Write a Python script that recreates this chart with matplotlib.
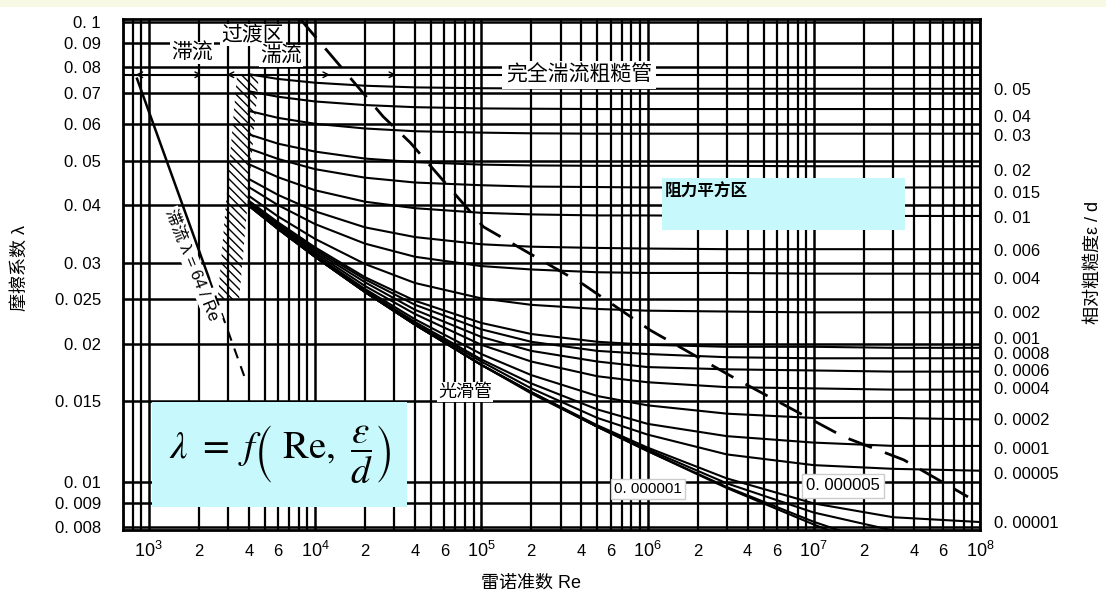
import numpy as np
import matplotlib
matplotlib.use("Agg")
import matplotlib.pyplot as plt
from matplotlib.ticker import FixedLocator, NullLocator, LogLocator, FuncFormatter
from matplotlib.patches import Rectangle, Polygon

plt.rcParams['font.family'] = ['Liberation Sans', 'Noto Sans CJK SC', 'DejaVu Sans']
plt.rcParams['mathtext.fontset'] = 'stix'
plt.rcParams['hatch.linewidth'] = 1.0

# ---------------------------------------------------------------------------
# Data
# ---------------------------------------------------------------------------

re_pts = [4e3, 6e3, 1e4, 2e4, 4e4, 1e5, 2e5, 5e5, 1e6, 3e6, 1e7, 3e7, 1e8]
rel_rough = [0.05, 0.04, 0.03, 0.02, 0.015, 0.01, 0.006, 0.004, 0.002, 0.001,
             0.0008, 0.0006, 0.0004, 0.0002, 0.0001, 0.00005, 0.00001,
             0.000005, 0.000001, 0.0]

# friction factor of each roughness curve at re_pts (one row per rel_rough)
friction = [
    [0.0770, 0.0752, 0.0738, 0.0727, 0.0721, 0.0718, 0.0717, 0.0716, 0.0716, 0.0716, 0.0716, 0.0716, 0.0716],
    [0.0707, 0.0688, 0.0672, 0.0660, 0.0653, 0.0649, 0.0648, 0.0647, 0.0647, 0.0647, 0.0647, 0.0647, 0.0647],
    [0.0641, 0.0619, 0.0601, 0.0587, 0.0579, 0.0575, 0.0573, 0.0572, 0.0572, 0.0572, 0.0572, 0.0572, 0.0572],
    [0.0570, 0.0544, 0.0523, 0.0505, 0.0496, 0.0490, 0.0488, 0.0487, 0.0487, 0.0487, 0.0486, 0.0486, 0.0486],
    [0.0531, 0.0504, 0.0479, 0.0459, 0.0448, 0.0442, 0.0439, 0.0438, 0.0437, 0.0437, 0.0437, 0.0437, 0.0437],
    [0.0491, 0.0460, 0.0431, 0.0407, 0.0394, 0.0385, 0.0382, 0.0380, 0.0380, 0.0379, 0.0379, 0.0379, 0.0379],
    [0.0456, 0.0421, 0.0388, 0.0358, 0.0341, 0.0329, 0.0325, 0.0323, 0.0322, 0.0321, 0.0321, 0.0321, 0.0321],
    [0.0438, 0.0400, 0.0364, 0.0330, 0.0309, 0.0295, 0.0290, 0.0286, 0.0285, 0.0285, 0.0284, 0.0284, 0.0284],
    [0.0419, 0.0378, 0.0338, 0.0298, 0.0271, 0.0251, 0.0243, 0.0238, 0.0236, 0.0235, 0.0234, 0.0234, 0.0234],
    [0.0409, 0.0367, 0.0324, 0.0279, 0.0248, 0.0222, 0.0210, 0.0202, 0.0199, 0.0197, 0.0197, 0.0196, 0.0196],
    [0.0407, 0.0365, 0.0321, 0.0276, 0.0243, 0.0215, 0.0202, 0.0193, 0.0190, 0.0187, 0.0186, 0.0186, 0.0186],
    [0.0405, 0.0362, 0.0318, 0.0272, 0.0237, 0.0207, 0.0193, 0.0183, 0.0178, 0.0176, 0.0175, 0.0174, 0.0174],
    [0.0403, 0.0360, 0.0315, 0.0267, 0.0232, 0.0199, 0.0183, 0.0170, 0.0165, 0.0161, 0.0160, 0.0159, 0.0159],
    [0.0401, 0.0357, 0.0312, 0.0263, 0.0226, 0.0190, 0.0171, 0.0154, 0.0147, 0.0141, 0.0138, 0.0138, 0.0137],
    [0.0400, 0.0356, 0.0310, 0.0261, 0.0223, 0.0185, 0.0164, 0.0144, 0.0134, 0.0126, 0.0122, 0.0120, 0.0120],
    [0.0400, 0.0356, 0.0310, 0.0260, 0.0221, 0.0183, 0.0160, 0.0138, 0.0127, 0.0115, 0.0109, 0.0107, 0.0106],
    [0.0399, 0.0355, 0.0309, 0.0259, 0.0220, 0.0180, 0.0157, 0.0133, 0.0119, 0.0102, 0.0090, 0.0084, 0.0082],
    [0.0399, 0.0355, 0.0309, 0.0259, 0.0220, 0.0180, 0.0157, 0.0132, 0.0118, 0.00995, 0.0086, 0.00786, 0.00747],
    [0.0399, 0.0355, 0.0309, 0.0259, 0.0220, 0.0180, 0.0157, 0.0132, 0.0117, 0.00977, 0.00821, 0.00718, 0.00643],
    [0.0399, 0.0355, 0.0309, 0.0259, 0.0220, 0.0180, 0.0156, 0.0132, 0.0117, 0.00972, 0.00810, 0.00695, 0.00594],
]

# laminar line  lambda = 64/Re (solid part, then dashed continuation)
lam_re = [850, 2300]
lam_f = [0.0753, 0.0278]
lam_re_dash = [2300, 3800]
lam_f_dash = [0.0278, 0.0168]

# boundary of the fully rough zone
bound_re = [8.13e3, 2.57e4, 3.74e4, 1.03e5, 4.12e5, 1.04e6, 3.48e6, 1.52e7, 3.48e7, 8.47e7]
bound_f = [0.1016, 0.0623, 0.0547, 0.0359, 0.0269, 0.0214, 0.0167, 0.01255, 0.01119, 0.0093]

# critical (transition) band, hatched
band_re = [3.4e3, 4.6e3, 3.5e3, 2.6e3]
band_f = [0.077, 0.077, 0.025, 0.025]

y_ticks = [0.008, 0.009, 0.01, 0.015, 0.02, 0.025, 0.03, 0.04, 0.05, 0.06, 0.07, 0.08, 0.09, 0.1]
y_labels = ['0. 008', '0. 009', '0. 01', '0. 015', '0. 02', '0. 025', '0. 03', '0. 04',
            '0. 05', '0. 06', '0. 07', '0. 08', '0. 09', '0. 1']

eps_labels = ['0. 05', '0. 04', '0. 03', '0. 02', '0. 015', '0. 01', '0. 006', '0. 004',
              '0. 002', '0. 001', '0. 0008', '0. 0006', '0. 0004', '0. 0002', '0. 0001',
              '0. 00005', '0. 00001']
eps_label_pos = [0.0715, 0.0626, 0.0567, 0.0477, 0.0427, 0.0377, 0.032, 0.0278,
                 0.0235, 0.0206, 0.0191, 0.0175, 0.016, 0.0137, 0.0119, 0.0105, 0.0082]

# regime arrows along the top row
arrow_row = 0.0768
laminar_span = (801, 2174)
turb_span = (2830, 1.28e4)
rough_start = (1.92e4, 3.2e4)


# ---------------------------------------------------------------------------
# Figure
# ---------------------------------------------------------------------------

def fx(px):
    return px / 1106


def fy(py):
    return 1 - py / 596


fig = plt.figure(figsize=(11.06, 5.96), dpi=100)
fig.patches.append(Rectangle((0, fy(7)), 1, 7 / 596, transform=fig.transFigure,
                             facecolor='#f7f9e4', edgecolor='none'))

ax = fig.add_axes([fx(123), fy(530), 857 / 1106, 511 / 596])
ax.set_xscale('log')
ax.set_yscale('log')

for f in friction:
    ax.plot(re_pts, f, color='black', lw=1.5, zorder=3)
ax.plot(lam_re, lam_f, color='black', lw=1.8, zorder=3)
ax.plot(lam_re_dash, lam_f_dash, color='black', lw=1.5, ls=(0, (5, 4)), zorder=3)
ax.plot(bound_re, bound_f, color='black', lw=2, ls=(0, (9, 5)), zorder=3)

ax.add_patch(Polygon(list(zip(band_re, band_f)), closed=True, fill=False,
                     hatch='\\\\\\\\', edgecolor='black', lw=0, zorder=2))

ax.set_xlim(700, 1e8)
ax.set_ylim(0.00788, 0.1015)

ax.xaxis.set_major_locator(LogLocator(base=10, numticks=12))
ax.xaxis.set_minor_locator(LogLocator(base=10, subs=np.arange(2, 10), numticks=12))
ax.xaxis.set_major_formatter(FuncFormatter(lambda v, p: r'$\mathregular{10^{%d}}$' % round(np.log10(v))))


def minor_fmt(v, p):
    k = int(round(v / 10 ** np.floor(np.log10(v) + 1e-9)))
    return str(k) if k in (2, 4, 6) else ''


ax.xaxis.set_minor_formatter(FuncFormatter(minor_fmt))
ax.yaxis.set_major_locator(FixedLocator(y_ticks))
ax.yaxis.set_minor_locator(NullLocator())
ax.set_yticklabels(y_labels)

ax.grid(True, which='major', axis='both', color='black', lw=1.8, zorder=1)
ax.grid(True, which='minor', axis='x', color='black', lw=1.6, zorder=1)
ax.axhline(arrow_row, color='black', lw=1.5, zorder=1)
ax.tick_params(axis='x', which='major', direction='in', length=5, top=True, pad=8, labelsize=13)
ax.tick_params(axis='x', which='minor', direction='in', length=5, top=True, pad=10, labelsize=12)
ax.tick_params(axis='y', which='both', direction='in', length=4, pad=16, labelsize=12)
for s in ax.spines.values():
    s.set_linewidth(2)

ax2 = ax.twinx()
ax2.set_yscale('log')
ax2.set_ylim(ax.get_ylim())
ax2.yaxis.set_major_locator(FixedLocator(eps_label_pos))
ax2.yaxis.set_minor_locator(NullLocator())
ax2.set_yticklabels(eps_labels)
ax2.tick_params(axis='y', length=0, pad=10, labelsize=12)

arrow_kw = dict(arrowstyle='<->', color='black', lw=1, mutation_scale=10)
ax.annotate('', xy=(laminar_span[0], arrow_row), xytext=(laminar_span[1], arrow_row),
            arrowprops=arrow_kw, zorder=4)
ax.annotate('', xy=(turb_span[0], arrow_row), xytext=(turb_span[1], arrow_row),
            arrowprops=arrow_kw, zorder=4)
ax.annotate('', xy=(rough_start[0], arrow_row), xytext=(rough_start[1], arrow_row),
            arrowprops=dict(arrowstyle='<-', color='black', lw=1, mutation_scale=10), zorder=4)

# region labels
white = dict(facecolor='white', edgecolor='none', pad=1)
fig.text(fx(253), fy(35), '过渡区', fontsize=15, ha='center', va='center', bbox=white, zorder=5)
fig.text(fx(192), fy(53), '滞流', fontsize=15, ha='center', va='center', bbox=white, zorder=5)
fig.text(fx(281), fy(56), '湍流', fontsize=15, ha='center', va='center', bbox=white, zorder=5)
fig.text(fx(579), fy(75), '完全湍流粗糙管', fontsize=15, ha='center', va='center',
         bbox=dict(facecolor='white', edgecolor='none', pad=3), zorder=5)
fig.text(fx(465), fy(392), '光滑管', fontsize=13, ha='center', va='center', bbox=white, zorder=5)
fig.text(fx(192), fy(265), '滞流 λ = 64 / Re', fontsize=12, ha='center', va='center',
         rotation=-68, bbox=white, zorder=5)
fig.text(fx(648), fy(489), '0. 000001', fontsize=11, ha='center', va='center',
         bbox=dict(facecolor='white', edgecolor='#cccccc', pad=2), zorder=5)
fig.text(fx(843), fy(486), '0. 000005', fontsize=12, ha='center', va='center',
         bbox=dict(facecolor='white', edgecolor='#cccccc', pad=3), zorder=5)

# cyan highlight boxes
fig.patches.append(Rectangle((fx(662), fy(230)), 243 / 1106, 52 / 596, transform=fig.transFigure,
                             facecolor='#c6f8fc', edgecolor='none', zorder=6))
fig.text(fx(665), fy(192), '阻力平方区', fontsize=12, fontweight='bold', ha='left', va='center', zorder=7)
fig.patches.append(Rectangle((fx(152), fy(507)), 255 / 1106, 105 / 596, transform=fig.transFigure,
                             facecolor='#c6f8fc', edgecolor='none', zorder=6))
fig.text(fx(280), fy(455), r'$\lambda\ =\ f\left(\ \mathrm{Re},\ \dfrac{\varepsilon}{d}\right)$',
         fontsize=28, ha='center', va='center', zorder=7)

# axis titles
fig.text(fx(20), fy(268), '摩擦系数 λ', fontsize=13, rotation=90, ha='center', va='center')
fig.text(fx(1093), fy(262), '相对粗糙度ε / d', fontsize=13, rotation=90, ha='center', va='center')
fig.text(fx(531), fy(583), '雷诺准数 Re', fontsize=13, ha='center', va='center')

fig.savefig("out.png")
